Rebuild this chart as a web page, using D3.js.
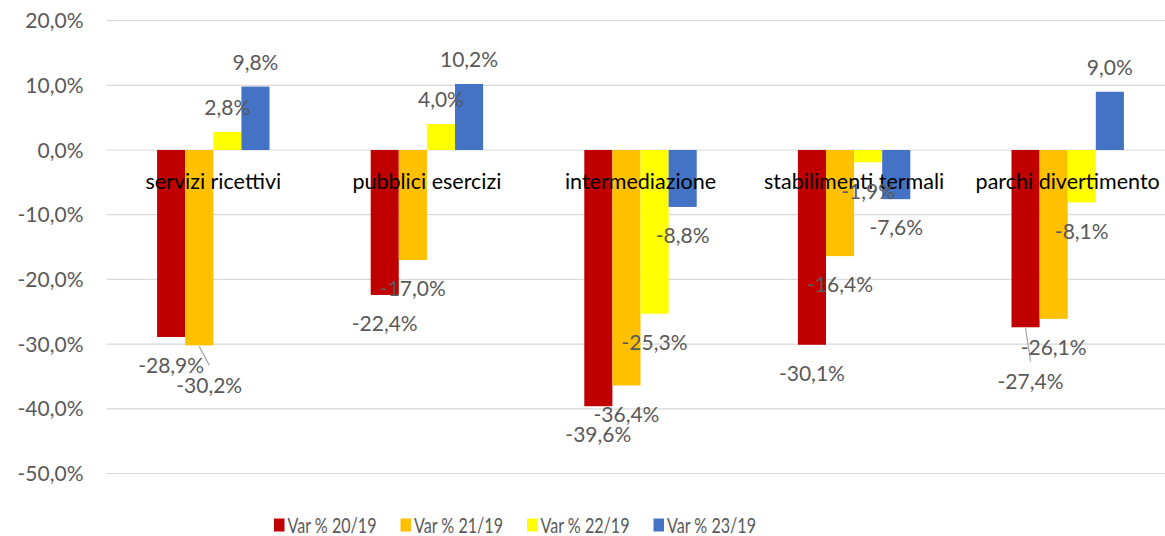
<!DOCTYPE html>
<html>
<head>
<meta charset="utf-8">
<script src="https://cdn.jsdelivr.net/npm/d3@7"></script>
<style>
  html, body { margin: 0; padding: 0; background: #fff; }
  svg { display: block; }
  text { font-family: Lato, "Open Sans", sans-serif; }
</style>
</head>
<body>
<svg id="chart" width="1165" height="536"></svg>
<script>
// ---- data ----
const categories = ["servizi ricettivi", "pubblici esercizi", "intermediazione", "stabilimenti termali", "parchi divertimento"];
const seriesNames = ["Var % 20/19", "Var % 21/19", "Var % 22/19", "Var % 23/19"];
const var2019_20 = [-28.9, -22.4, -39.6, -30.1, -27.4];
const var2019_21 = [-30.2, -17.0, -36.4, -16.4, -26.1];
const var2019_22 = [2.8, 4.0, -25.3, -1.9, -8.1];
const var2019_23 = [9.8, 10.2, -8.8, -7.6, 9.0];
const yTicks = [20, 10, 0, -10, -20, -30, -40, -50];

// ---- layout / style ----
const colors = ["#C00000", "#FFC000", "#FFFF00", "#4472C4"];
const seriesValues = [var2019_20, var2019_21, var2019_22, var2019_23];
// manually displaced labels (with leader lines) as in the original
const labelShift = { "0|1": [10, 11], "4|0": [5, 25.5] };

const svg = d3.select("#chart");
const locale = d3.formatLocale({ decimal: ",", thousands: ".", grouping: [3], currency: ["", "€"], minus: "-" });
const fmt = v => locale.format(".1f")(v) + "%";

const x = d3.scaleBand().domain(categories).range([106.5, 1174.5]).paddingInner(0).paddingOuter(0);
const bw = x.bandwidth();
const barW = bw / (4 + 3.6);
const xs = d3.scaleBand().domain(seriesNames).range([(bw - 4 * barW) / 2, (bw + 4 * barW) / 2]);
const y = d3.scaleLinear().domain([-50, 20]).range([473.5, 20.6]);

// gridlines
svg.append("g").selectAll("line").data(yTicks).join("line")
  .attr("x1", 106.5).attr("x2", 1174.5)
  .attr("y1", d => y(d)).attr("y2", d => y(d))
  .attr("stroke", "#D9D9D9").attr("stroke-width", 1.2);

// y axis labels
svg.append("g").selectAll("text").data(yTicks).join("text")
  .attr("x", 83.5).attr("y", d => y(d)).attr("dy", "0.36em")
  .attr("text-anchor", "end").attr("fill", "#595959").attr("font-size", 21)
  .text(d => fmt(d));

// flatten
const items = [];
categories.forEach((c, ci) => {
  seriesNames.forEach((s, si) => {
    items.push({ c, ci, s, si, v: seriesValues[si][ci] });
  });
});

// bars
svg.append("g").selectAll("rect").data(items).join("rect")
  .attr("x", d => x(d.c) + xs(d.s))
  .attr("width", xs.bandwidth())
  .attr("y", d => y(Math.max(0, d.v)))
  .attr("height", d => Math.abs(y(d.v) - y(0)))
  .attr("fill", d => colors[d.si]);

// category labels (drawn at the zero line, over the bars)
svg.append("g").selectAll("text").data(categories).join("text")
  .attr("x", d => x(d) + bw / 2).attr("y", y(0) + 31.5).attr("dy", "0.36em")
  .attr("text-anchor", "middle").attr("fill", "#000").attr("font-size", 21.5)
  .text(d => d);

// data labels
function labelPos(d) {
  const cx = x(d.c) + xs(d.s) + xs.bandwidth() / 2;
  const cy = d.v >= 0 ? y(d.v) - 24.5 : y(d.v) + 28.7;
  const sh = labelShift[d.ci + "|" + d.si] || [0, 0];
  return [cx + sh[0], cy + sh[1], cx];
}

// leader lines
svg.append("g").selectAll("line").data(items.filter(d => labelShift[d.ci + "|" + d.si])).join("line")
  .attr("x1", d => labelPos(d)[2]).attr("y1", d => y(d.v) + 1)
  .attr("x2", d => labelPos(d)[0]).attr("y2", d => labelPos(d)[1] - 20)
  .attr("stroke", "#A6A6A6").attr("stroke-width", 1.2);

svg.append("g").selectAll("text").data(items).join("text")
  .attr("x", d => labelPos(d)[0]).attr("y", d => labelPos(d)[1]).attr("dy", "0.36em")
  .attr("text-anchor", "middle").attr("fill", "#595959").attr("font-size", 21)
  .text(d => fmt(d.v));

// legend
const legendX0 = 274, legendStep = 126.5, legendY = 525;
const lg = svg.append("g").selectAll("g").data(seriesNames).join("g")
  .attr("transform", (d, i) => `translate(${legendX0 + i * legendStep},${legendY})`);
lg.append("rect").attr("x", 0).attr("y", -6.5).attr("width", 10.5).attr("height", 13)
  .attr("fill", (d, i) => colors[i]);
lg.append("text").attr("x", 13.5).attr("y", 0).attr("dy", "0.36em")
  .attr("fill", "#595959").attr("font-size", 21)
  .attr("textLength", 89).attr("lengthAdjust", "spacingAndGlyphs")
  .text(d => d);
</script>
</body>
</html>
